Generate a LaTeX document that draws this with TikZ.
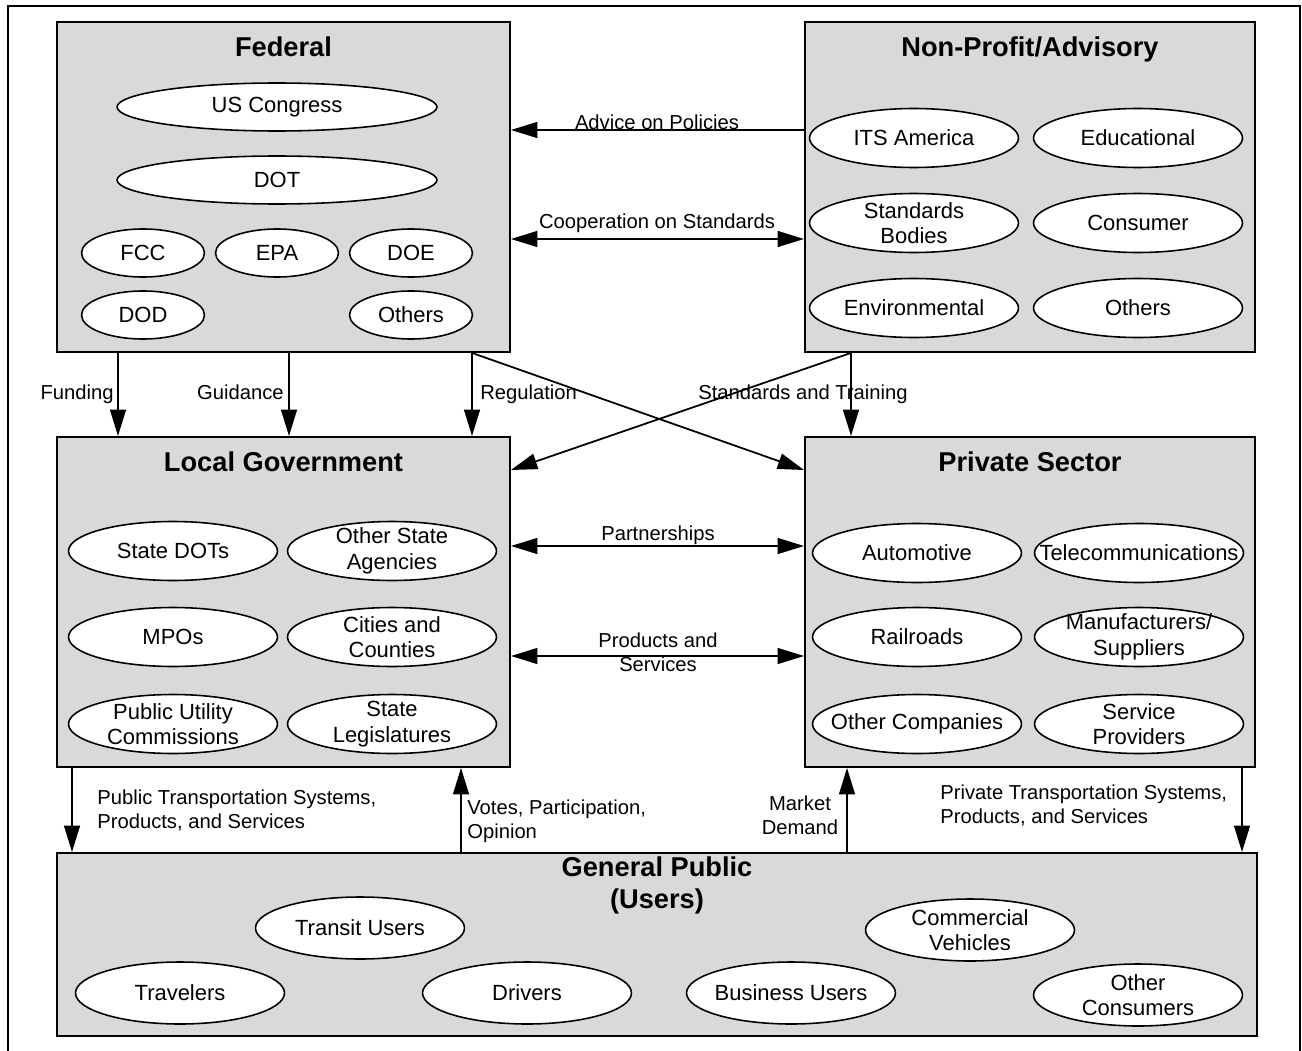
\documentclass[tikz,border=0pt]{standalone}
\usepackage{fontspec}
\setmainfont{Liberation Sans}
\usetikzlibrary{arrows.meta}
\usetikzlibrary{shapes.geometric}
\usetikzlibrary{positioning}

\definecolor{panelgray}{RGB}{217,217,217}

\tikzset{
  panel/.style={draw, line width=1.1pt, fill=panelgray, inner sep=0pt},
  paneltitle/.style={font=\fontsize{15.5}{18.5}\selectfont\bfseries, inner sep=0pt, align=center},
  oval/.style={ellipse, draw, fill=white, line width=0.9pt, minimum width=4.18cm, minimum height=1.18cm,
    inner xsep=-40pt, inner ysep=-6pt, align=center, font=\fontsize{12.5}{14.5}\selectfont},
  longoval/.style={oval, minimum width=6.4cm, minimum height=0.96cm},
  shortoval/.style={oval, minimum width=2.46cm, minimum height=0.96cm},
  flow/.style={line width=1pt, -{Triangle[length=15pt, width=9pt]}},
  twoway/.style={line width=1pt, {Triangle[length=15pt, width=9pt]}-{Triangle[length=15pt, width=9pt]}},
  flowtext/.style={font=\fontsize{11.5}{13.5}\selectfont, inner sep=0pt}
}

\begin{document}
\begin{tikzpicture}[x=0.02cm, y=-0.02cm]
\useasboundingbox (0,0) rectangle (1302,1051);
\draw[line width=1pt] (8,1051) -- (8,6) -- (1300,6) -- (1300,1051);

% groups
\node[panel, minimum width=9.06cm, minimum height=6.6cm] (fed) at (283.5,187) {};
\node[panel, minimum width=9.0cm, minimum height=6.6cm] (npo) at (1030,187) {};
\node[panel, minimum width=9.06cm, minimum height=6.6cm] (local) at (283.5,602) {};
\node[panel, minimum width=9.0cm, minimum height=6.6cm] (priv) at (1030,602) {};
\node[panel, minimum width=24.02cm, minimum height=3.66cm] (pub) at (657,944.5) {};

\node[paneltitle, anchor=base] (fedtitle) at ([yshift=-0.7cm]fed.north) {Federal};
\node[paneltitle, anchor=base] (npotitle) at ([yshift=-0.7cm]npo.north) {Non-Profit/Advisory};
\node[paneltitle, anchor=base] (localtitle) at ([yshift=-0.7cm]local.north) {Local Government};
\node[paneltitle, anchor=base] (privtitle) at ([yshift=-0.7cm]priv.north) {Private Sector};
\node[paneltitle, anchor=north] (pubtitle) at ([yshift=-0.08cm]pub.north) {General Public\\(Users)};

% federal
\node[longoval] (congress) at (277,107) {US Congress};
\node[longoval] (dot) at (277,180) {DOT};
\node[shortoval] (fcc) at (143,253) {FCC};
\node[shortoval] (epa) at (277,253) {EPA};
\node[shortoval] (doe) at (411,253) {DOE};
\node[shortoval] (dod) at (143,315) {DOD};
\node[shortoval] (fedothers) at (411,315) {Others};

% non-profit
\node[oval] (itsa) at (914,138) {ITS America};
\node[oval] (educ) at (1138,138) {Educational};
\node[oval] (stdbodies) at (914,223) {Standards\\Bodies};
\node[oval] (consumer) at (1138,223) {Consumer};
\node[oval] (environ) at (914,308) {Environmental};
\node[oval] (npoothers) at (1138,308) {Others};

% local government
\node[oval] (statedots) at (173,551) {State DOTs};
\node[oval] (otherstate) at (392,551) {Other State\\Agencies};
\node[oval] (mpos) at (173,637) {MPOs};
\node[oval] (cities) at (392,637) {Cities and\\Counties};
\node[oval] (puc) at (173,724) {Public Utility\\Commissions};
\node[oval] (statelegis) at (392,724) {State\\Legislatures};

% private sector
\node[oval] (auto) at (917,553) {Automotive};
\node[oval] (telecom) at (1139,553) {Telecommunications};
\node[oval] (rail) at (917,637) {Railroads};
\node[oval] (manuf) at (1139,637) {Manufacturers/\\Suppliers};
\node[oval] (othercos) at (917,724) {Other Companies};
\node[oval] (servprov) at (1139,724) {Service\\Providers};

% general public
\node[oval, minimum height=1.24cm] (transit) at (360,928) {Transit Users};
\node[oval, minimum height=1.24cm] (commercial) at (970,930) {Commercial\\Vehicles};
\node[oval, minimum height=1.24cm] (travelers) at (180,993) {Travelers};
\node[oval, minimum height=1.24cm] (drivers) at (527,993) {Drivers};
\node[oval, minimum height=1.24cm] (business) at (791,993) {Business Users};
\node[oval, minimum height=1.24cm] (otherconsumers) at (1138,995) {Other\\Consumers};

% connector positions
\coordinate (advy) at (0,130);
\coordinate (coopy) at (0,239);
\coordinate (party) at (0,546);
\coordinate (prody) at (0,656);
\coordinate (crossy) at (0,470);
\coordinate (fundx) at (118,0);
\coordinate (guidx) at (289,0);
\coordinate (regx) at (472,0);
\coordinate (stdx) at (851,0);
\coordinate (ptsx) at (72,0);
\coordinate (votex) at (461,0);
\coordinate (mktx) at (847,0);
\coordinate (prtx) at (1242,0);

\draw[flow] (npo.west |- advy) -- (fed.east |- advy);
\draw[twoway] (fed.east |- coopy) -- (npo.west |- coopy);
\draw[twoway] (local.east |- party) -- (priv.west |- party);
\draw[twoway] (local.east |- prody) -- (priv.west |- prody);

\draw[flow] (fundx |- fed.south) -- (fundx |- local.north);
\draw[flow] (guidx |- fed.south) -- (guidx |- local.north);
\draw[flow] (regx |- fed.south) -- (regx |- local.north);
\draw[flow] (stdx |- npo.south) -- (stdx |- priv.north);
\draw[flow] (regx |- fed.south) -- (priv.west |- crossy);
\draw[flow] (stdx |- npo.south) -- (local.east |- crossy);

\draw[flow] (ptsx |- local.south) -- (ptsx |- pub.north);
\draw[flow] (votex |- pub.north) -- (votex |- local.south);
\draw[flow] (mktx |- pub.north) -- (mktx |- priv.south);
\draw[flow] (prtx |- priv.south) -- (prtx |- pub.north);

% connector labels
\node[flowtext, anchor=base] (advtext) at (657,130) {Advice on Policies};
\node[flowtext, anchor=base] (cooptext) at (657,228) {Cooperation on Standards};
\node[flowtext, anchor=base] (partext) at (658,540) {Partnerships};
\node[flowtext, anchor=north, align=center] (prodtext) at (658,633) {Products and\\Services};
\node[flowtext, anchor=base east] (fundtext) at (114,399) {Funding};
\node[flowtext, anchor=base east] (guidtext) at (284,399) {Guidance};
\node[flowtext, anchor=base west] (regtext) at (480,399) {Regulation};
\node[flowtext, anchor=base] (stdtext) at (803,399) {Standards and Training};
\node[flowtext, anchor=north west, align=left] (ptstext) at (97,790) {Public Transportation Systems,\\Products, and Services};
\node[flowtext, anchor=north west, align=left] (votetext) at (467,800) {Votes, Participation,\\Opinion};
\node[flowtext, anchor=north, align=center] (mkttext) at (800,796) {Market\\Demand};
\node[flowtext, anchor=north west, align=left] (prttext) at (940,785) {Private Transportation Systems,\\Products, and Services};

\end{tikzpicture}
\end{document}
